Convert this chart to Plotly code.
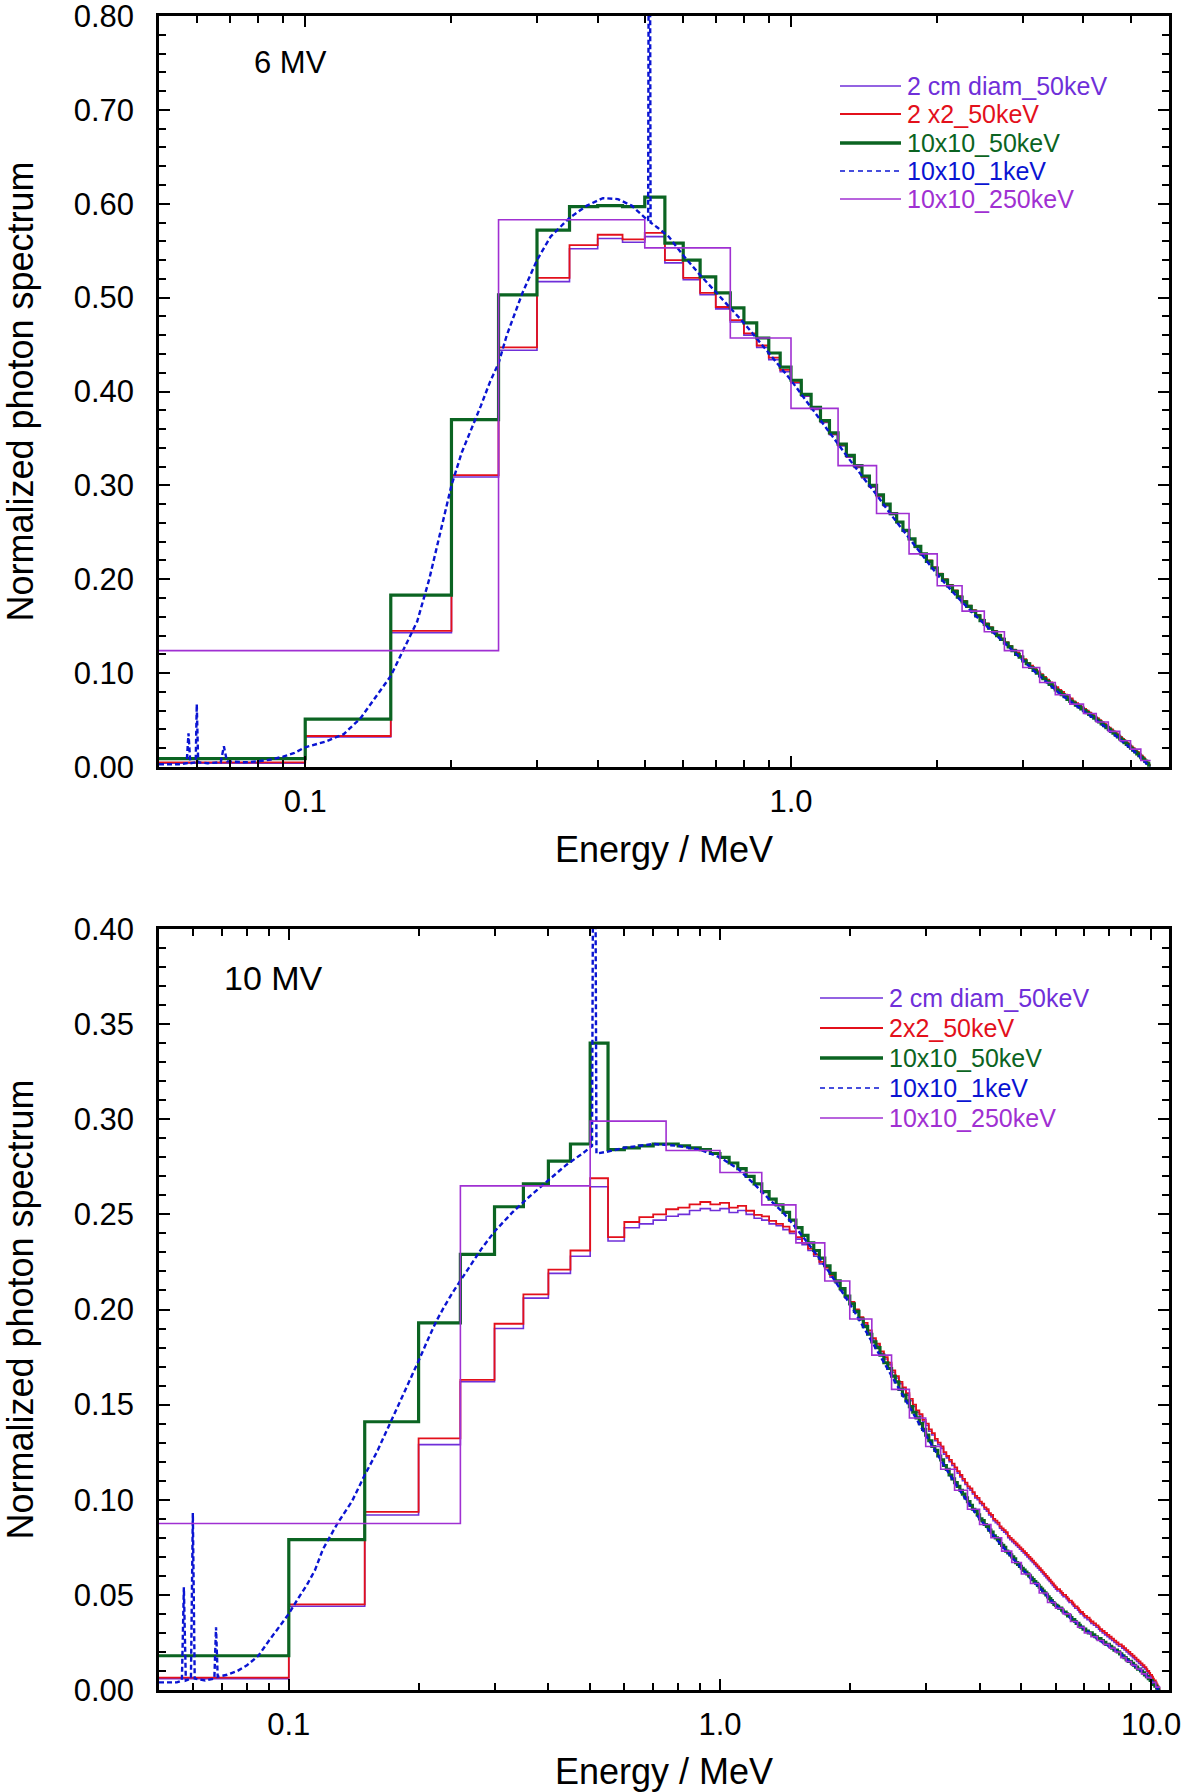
import math
import plotly.graph_objects as go

# ---------------- data ----------------
BIN_START = 0.05      # MeV, first visible 50 keV bin
BIN_W = 0.05          # MeV
COARSE_W = 0.25       # MeV, 250 keV bins (first bin starts at 0)

# 6 MV, 50 keV bins starting at 0.05 MeV
g6_10x10_50 = [0.009, 0.051, 0.183, 0.370, 0.503, 0.572, 0.597, 0.598, 0.597, 0.607,
               0.558, 0.540, 0.522, 0.505, 0.489, 0.473, 0.457, 0.441, 0.426,
               0.412, 0.397, 0.383, 0.369, 0.356, 0.344, 0.332, 0.321, 0.310, 0.300,
               0.290, 0.280, 0.270, 0.261, 0.252, 0.243, 0.235, 0.227, 0.219, 0.212,
               0.205, 0.199, 0.193, 0.187, 0.181, 0.176, 0.171, 0.166, 0.161, 0.156,
               0.152, 0.148, 0.144, 0.140, 0.136, 0.132, 0.128, 0.124, 0.120, 0.117,
               0.113, 0.110, 0.106, 0.103, 0.100, 0.097, 0.094, 0.091, 0.088, 0.085,
               0.082, 0.080, 0.077, 0.075, 0.072, 0.070, 0.068, 0.066, 0.064, 0.062,
               0.060, 0.058, 0.056, 0.054, 0.052, 0.050, 0.048, 0.046, 0.044, 0.042,
               0.040, 0.038, 0.036, 0.034, 0.032, 0.030, 0.028, 0.026, 0.024, 0.022,
               0.020, 0.018, 0.016, 0.014, 0.012, 0.010, 0.008, 0.006, 0.004, 0.002]
r6_2x2_50 = [0.005, 0.033, 0.145, 0.311, 0.447, 0.521, 0.556, 0.567, 0.562, 0.569,
             0.540, 0.521, 0.505, 0.490, 0.476, 0.462, 0.449, 0.436, 0.423,
             0.410, 0.396, 0.382, 0.368, 0.355, 0.343, 0.331, 0.320, 0.309, 0.299,
             0.289, 0.279, 0.270, 0.261, 0.252, 0.243, 0.235, 0.227, 0.220, 0.213,
             0.206, 0.200, 0.194, 0.188, 0.182, 0.177, 0.172, 0.167, 0.162, 0.157,
             0.153, 0.149, 0.145, 0.141, 0.137, 0.133, 0.129, 0.125, 0.122, 0.118,
             0.115, 0.111, 0.108, 0.105, 0.102, 0.099, 0.096, 0.093, 0.090, 0.087,
             0.085, 0.082, 0.080, 0.077, 0.075, 0.073, 0.070, 0.068, 0.066, 0.064,
             0.062, 0.060, 0.058, 0.056, 0.054, 0.052, 0.050, 0.048, 0.046, 0.044,
             0.042, 0.040, 0.038, 0.036, 0.034, 0.032, 0.030, 0.028, 0.026, 0.024,
             0.022, 0.020, 0.018, 0.016, 0.014, 0.012, 0.010, 0.007, 0.005, 0.002]
v6_2cm_50 = [0.004, 0.032, 0.143, 0.309, 0.444, 0.517, 0.552, 0.563, 0.559, 0.565,
             0.537, 0.519, 0.503, 0.488, 0.474, 0.460, 0.447, 0.434, 0.421,
             0.409, 0.395, 0.381, 0.367, 0.354, 0.342, 0.330, 0.319, 0.308, 0.298,
             0.288, 0.278, 0.269, 0.260, 0.251, 0.242, 0.234, 0.226, 0.219, 0.212,
             0.205, 0.199, 0.193, 0.187, 0.181, 0.176, 0.171, 0.166, 0.161, 0.156,
             0.152, 0.148, 0.144, 0.140, 0.136, 0.132, 0.128, 0.124, 0.121, 0.117,
             0.114, 0.110, 0.107, 0.104, 0.101, 0.098, 0.095, 0.092, 0.089, 0.086,
             0.084, 0.081, 0.079, 0.076, 0.074, 0.072, 0.069, 0.067, 0.065, 0.063,
             0.061, 0.059, 0.057, 0.055, 0.053, 0.051, 0.049, 0.047, 0.045, 0.043,
             0.041, 0.039, 0.037, 0.035, 0.033, 0.031, 0.029, 0.027, 0.025, 0.023,
             0.021, 0.019, 0.017, 0.015, 0.013, 0.011, 0.009, 0.006, 0.004, 0.002]
p6_10x10_250 = [0.124, 0.583, 0.553, 0.457, 0.382, 0.321, 0.270, 0.227, 0.193, 0.166, 0.144,
                0.124, 0.106, 0.090, 0.077, 0.067, 0.057, 0.048, 0.038, 0.028, 0.019, 0.007]
b6_energy = [0.050, 0.055, 0.057, 0.0575, 0.058, 0.0595, 0.0598, 0.0602, 0.063, 0.067, 0.068, 0.069,
             0.075, 0.080, 0.085, 0.090, 0.095, 0.100, 0.110, 0.120, 0.130, 0.140, 0.150, 0.160,
             0.170, 0.180, 0.190, 0.200, 0.210, 0.220, 0.230, 0.240, 0.250, 0.260, 0.280, 0.300,
             0.320, 0.350, 0.380, 0.410, 0.440, 0.470, 0.500, 0.508, 0.511, 0.514, 0.530, 0.560,
             0.600, 0.650, 0.700, 0.750, 0.800, 0.900, 1.000, 1.100, 1.200, 1.300, 1.400, 1.500,
             1.600, 1.700, 1.800, 1.900, 2.000, 2.200, 2.400, 2.600, 2.800, 3.000, 3.200, 3.400,
             3.600, 3.800, 4.000, 4.200, 4.400, 4.600, 4.800, 5.000, 5.200, 5.400, 5.480]
b6_value = [0.003, 0.003, 0.004, 0.036, 0.004, 0.005, 0.067, 0.005, 0.004, 0.005, 0.022, 0.006,
            0.005, 0.006, 0.008, 0.011, 0.015, 0.021, 0.027, 0.035, 0.052, 0.075, 0.097, 0.127,
            0.155, 0.200, 0.250, 0.300, 0.335, 0.360, 0.385, 0.410, 0.430, 0.460, 0.505, 0.540,
            0.565, 0.585, 0.598, 0.606, 0.605, 0.598, 0.585, 0.582, 1.200, 0.580, 0.575, 0.565,
            0.545, 0.524, 0.506, 0.489, 0.473, 0.441, 0.412, 0.383, 0.356, 0.332, 0.310, 0.290,
            0.270, 0.252, 0.235, 0.219, 0.205, 0.181, 0.161, 0.144, 0.128, 0.113, 0.100, 0.088,
            0.077, 0.068, 0.060, 0.052, 0.044, 0.036, 0.028, 0.020, 0.012, 0.004, 0.000]

# 10 MV, 50 keV bins starting at 0.05 MeV
g10_10x10_50 = [0.018, 0.079, 0.141, 0.193, 0.229, 0.254, 0.266, 0.278, 0.287, 0.340,
                0.284, 0.285, 0.286, 0.287, 0.287, 0.286, 0.285, 0.284, 0.282,
                0.280, 0.277, 0.274, 0.270, 0.266, 0.262, 0.258, 0.255, 0.251, 0.247,
                0.243, 0.239, 0.235, 0.231, 0.227, 0.223, 0.219, 0.215, 0.211, 0.207,
                0.203, 0.199, 0.195, 0.191, 0.187, 0.183, 0.180, 0.176, 0.172, 0.169,
                0.165, 0.162, 0.158, 0.155, 0.152, 0.149, 0.146, 0.143, 0.140, 0.137,
                0.134, 0.131, 0.128, 0.126, 0.123, 0.121, 0.118, 0.116, 0.113, 0.111,
                0.109, 0.107, 0.105, 0.103, 0.101, 0.099, 0.097, 0.095, 0.094, 0.092,
                0.090, 0.089, 0.087, 0.086, 0.084, 0.083, 0.081, 0.080, 0.079, 0.077,
                0.076, 0.075, 0.073, 0.072, 0.071, 0.070, 0.069, 0.067, 0.066, 0.065,
                0.064, 0.063, 0.062, 0.061, 0.060, 0.059, 0.058, 0.057, 0.056, 0.055,
                0.054, 0.053, 0.052, 0.051, 0.050, 0.049, 0.048, 0.047, 0.046, 0.045,
                0.0445, 0.044, 0.043, 0.043, 0.042, 0.041, 0.041, 0.040, 0.039, 0.039,
                0.038, 0.037, 0.037, 0.036, 0.035, 0.035, 0.034, 0.033, 0.033, 0.032,
                0.032, 0.031, 0.031, 0.030, 0.030, 0.030, 0.029, 0.029, 0.028, 0.028,
                0.027, 0.027, 0.027, 0.026, 0.026, 0.025, 0.025, 0.024, 0.024, 0.024,
                0.023, 0.023, 0.022, 0.022, 0.021, 0.021, 0.021, 0.020, 0.020, 0.019,
                0.019, 0.018, 0.018, 0.017, 0.017, 0.016, 0.016, 0.015, 0.015, 0.015,
                0.014, 0.014, 0.013, 0.013, 0.012, 0.012, 0.011, 0.011, 0.011, 0.010,
                0.010, 0.009, 0.009, 0.008, 0.008, 0.007, 0.007, 0.006, 0.006, 0.005,
                0.005, 0.004, 0.003, 0.003, 0.002, 0.002, 0.001, 0.001, 0.000, 0.000]
r10_2x2_50 = [0.0065, 0.045, 0.0936, 0.1323, 0.163, 0.1925, 0.208, 0.221, 0.231, 0.269,
              0.238, 0.246, 0.2486, 0.250, 0.2527, 0.2536, 0.2553, 0.2565, 0.2553,
              0.256, 0.2536, 0.2545, 0.2519, 0.2497, 0.249, 0.2466, 0.245, 0.2436, 0.241,
              0.238, 0.235, 0.232, 0.229, 0.225, 0.222, 0.218, 0.215, 0.211, 0.207,
              0.204, 0.200, 0.196, 0.193, 0.189, 0.185, 0.182, 0.178, 0.175, 0.172,
              0.168, 0.165, 0.162, 0.159, 0.156, 0.153, 0.150, 0.147, 0.145, 0.142,
              0.140, 0.137, 0.135, 0.132, 0.130, 0.128, 0.125, 0.123, 0.121, 0.119,
              0.117, 0.115, 0.113, 0.111, 0.109, 0.107, 0.106, 0.104, 0.102, 0.101,
              0.099, 0.098, 0.096, 0.095, 0.093, 0.092, 0.090, 0.089, 0.088, 0.086,
              0.085, 0.084, 0.083, 0.081, 0.080, 0.079, 0.078, 0.077, 0.076, 0.075,
              0.074, 0.073, 0.072, 0.071, 0.070, 0.069, 0.068, 0.067, 0.066, 0.065,
              0.064, 0.063, 0.062, 0.061, 0.060, 0.059, 0.058, 0.057, 0.056, 0.055,
              0.054, 0.053, 0.053, 0.052, 0.051, 0.050, 0.050, 0.049, 0.048, 0.047,
              0.047, 0.046, 0.045, 0.044, 0.044, 0.043, 0.042, 0.041, 0.041, 0.040,
              0.039, 0.039, 0.038, 0.038, 0.037, 0.036, 0.036, 0.035, 0.035, 0.034,
              0.034, 0.033, 0.032, 0.032, 0.031, 0.031, 0.030, 0.030, 0.029, 0.029,
              0.028, 0.028, 0.027, 0.027, 0.026, 0.026, 0.025, 0.025, 0.024, 0.024,
              0.024, 0.023, 0.023, 0.022, 0.022, 0.021, 0.021, 0.020, 0.020, 0.019,
              0.019, 0.018, 0.018, 0.017, 0.017, 0.016, 0.016, 0.015, 0.015, 0.014,
              0.014, 0.013, 0.013, 0.012, 0.012, 0.011, 0.010, 0.010, 0.009, 0.008,
              0.008, 0.007, 0.006, 0.005, 0.005, 0.004, 0.003, 0.002, 0.001, 0.000]
v10_2cm_50 = [0.006, 0.044, 0.092, 0.129, 0.162, 0.190, 0.206, 0.219, 0.228, 0.2645,
              0.236, 0.243, 0.245, 0.247, 0.249, 0.250, 0.252, 0.253, 0.252,
              0.253, 0.251, 0.252, 0.250, 0.248, 0.247, 0.245, 0.244, 0.242, 0.240,
              0.237, 0.234, 0.231, 0.228, 0.224, 0.221, 0.217, 0.214, 0.210, 0.206,
              0.203, 0.199, 0.195, 0.192, 0.188, 0.184, 0.181, 0.177, 0.174, 0.171,
              0.167, 0.164, 0.161, 0.158, 0.155, 0.152, 0.149, 0.146, 0.144, 0.141,
              0.139, 0.136, 0.134, 0.131, 0.129, 0.127, 0.124, 0.122, 0.120, 0.118,
              0.116, 0.114, 0.112, 0.110, 0.108, 0.106, 0.105, 0.103, 0.101, 0.100,
              0.098, 0.097, 0.095, 0.094, 0.092, 0.091, 0.089, 0.088, 0.087, 0.085,
              0.084, 0.083, 0.082, 0.080, 0.079, 0.078, 0.077, 0.076, 0.075, 0.074,
              0.073, 0.072, 0.071, 0.070, 0.069, 0.068, 0.067, 0.066, 0.065, 0.064,
              0.063, 0.062, 0.061, 0.060, 0.059, 0.058, 0.057, 0.056, 0.055, 0.054,
              0.053, 0.052, 0.052, 0.051, 0.050, 0.049, 0.049, 0.048, 0.047, 0.046,
              0.046, 0.045, 0.044, 0.043, 0.043, 0.042, 0.041, 0.040, 0.040, 0.039,
              0.038, 0.038, 0.037, 0.037, 0.036, 0.035, 0.035, 0.034, 0.034, 0.033,
              0.033, 0.032, 0.031, 0.031, 0.030, 0.030, 0.029, 0.029, 0.028, 0.028,
              0.027, 0.027, 0.026, 0.026, 0.025, 0.025, 0.024, 0.024, 0.023, 0.023,
              0.023, 0.022, 0.022, 0.021, 0.021, 0.020, 0.020, 0.019, 0.019, 0.018,
              0.018, 0.017, 0.017, 0.016, 0.016, 0.015, 0.015, 0.014, 0.014, 0.013,
              0.013, 0.012, 0.012, 0.011, 0.011, 0.010, 0.009, 0.009, 0.008, 0.007,
              0.007, 0.006, 0.005, 0.004, 0.004, 0.003, 0.002, 0.001, 0.001, 0.000]
p10_10x10_250 = [0.0875, 0.265, 0.299, 0.2836, 0.272, 0.255, 0.235, 0.215, 0.195, 0.176,
                 0.158, 0.143, 0.128, 0.116, 0.105, 0.095, 0.087, 0.080, 0.073, 0.067,
                 0.061, 0.056, 0.051, 0.046, 0.043, 0.040, 0.036, 0.033, 0.030, 0.028,
                 0.026, 0.024, 0.022, 0.020, 0.017, 0.015, 0.013, 0.011, 0.0085, 0.0065,
                 0.004, 0.0015]
b10_energy = [0.050, 0.055, 0.0565, 0.0571, 0.0577, 0.0593, 0.0599, 0.0605, 0.064, 0.0672, 0.0678,
              0.0684, 0.072, 0.076, 0.080, 0.085, 0.090, 0.095, 0.100, 0.105, 0.110, 0.115, 0.120,
              0.130, 0.140, 0.150, 0.160, 0.170, 0.180, 0.190, 0.200, 0.210, 0.220, 0.230, 0.240,
              0.260, 0.280, 0.300, 0.330, 0.360, 0.400, 0.440, 0.480, 0.505, 0.511, 0.517, 0.550,
              0.600, 0.700, 0.800, 0.900, 1.000, 1.100, 1.200, 1.300, 1.400, 1.500, 1.600, 1.700,
              1.800, 1.900, 2.000, 2.200, 2.400, 2.600, 2.800, 3.000, 3.250, 3.500, 3.750, 4.000,
              4.500, 5.000, 5.500, 6.000, 6.500, 7.000, 7.500, 8.000, 8.500, 9.000, 9.500, 10.000,
              10.400]
b10_value = [0.004, 0.004, 0.005, 0.054, 0.005, 0.006, 0.093, 0.006, 0.005, 0.006, 0.033,
             0.007, 0.008, 0.010, 0.013, 0.018, 0.026, 0.033, 0.040, 0.048, 0.055, 0.063, 0.074,
             0.088, 0.099, 0.113, 0.125, 0.138, 0.150, 0.162, 0.173, 0.184, 0.194, 0.202, 0.209,
             0.221, 0.232, 0.241, 0.251, 0.259, 0.268, 0.276, 0.282, 0.286, 0.600, 0.282, 0.283,
             0.285, 0.287, 0.286, 0.284, 0.280, 0.274, 0.266, 0.258, 0.251, 0.243, 0.235, 0.227,
             0.219, 0.211, 0.203, 0.187, 0.172, 0.158, 0.146, 0.134, 0.121, 0.109, 0.099, 0.090,
             0.076, 0.064, 0.054, 0.0445, 0.038, 0.032, 0.027, 0.023, 0.019, 0.014, 0.010, 0.005,
             0.000]

names6 = ["2 cm diam_50keV", "2 x2_50keV", "10x10_50keV", "10x10_1keV", "10x10_250keV"]
names10 = ["2 cm diam_50keV", "2x2_50keV", "10x10_50keV", "10x10_1keV", "10x10_250keV"]
x_ticks = [0.1, 1.0, 10.0]
x_ticktext = ["0.1", "1.0", "10.0"]
x_minor = [0.06, 0.07, 0.08, 0.09, 0.2, 0.3, 0.4, 0.5, 0.6, 0.7, 0.8, 0.9,
           2, 3, 4, 5, 6, 7, 8, 9]

# ---------------- styling ----------------
FONT = "Liberation Sans, Arial, Helvetica, sans-serif"
COLORS = ["#6F2FD9", "#E3101B", "#0B6422", "#0A14D2", "#A030D2"]
WIDTHS = [1.6, 1.8, 3.2, 2.4, 1.6]
DASHES = ["solid", "solid", "solid", "5px,3px", "solid"]
LEG_WIDTHS = [1.6, 1.8, 3.6, 1.6, 1.6]
LEG_DASHES = ["solid", "solid", "solid", "5px,4px", "solid"]

W, H = 1181, 1792
ML, MR, MT, MB = 159, 12, 16, 102
PW = W - ML - MR
PH = H - MT - MB


def px(pix):
    return (pix - ML) / PW


def py(pix):
    return (H - MB - pix) / PH


def hist_steps(start, width, vals):
    edges = [start + width * i for i in range(len(vals) + 1)]
    if edges[0] <= 0:
        edges[0] = 1e-3   # the 0 edge cannot be shown on a log axis
    return edges, list(vals) + [vals[-1]]


fig = go.Figure()

panels = [
    ("x", "y", names6, v6_2cm_50, r6_2x2_50, g6_10x10_50, b6_energy, b6_value, p6_10x10_250),
    ("x2", "y2", names10, v10_2cm_50, r10_2x2_50, g10_10x10_50, b10_energy, b10_value, p10_10x10_250),
]
for xa, ya, nm, v2cm, r2x2, g50, be, bv, p250 in panels:
    series = [
        hist_steps(BIN_START, BIN_W, v2cm),
        hist_steps(BIN_START, BIN_W, r2x2),
        hist_steps(BIN_START, BIN_W, g50),
        (be, bv),
        hist_steps(0.0, COARSE_W, p250),
    ]
    for i, (sx, sy) in enumerate(series):
        fig.add_trace(go.Scatter(
            x=sx, y=sy, mode="lines", name=nm[i], showlegend=False,
            line=dict(color=COLORS[i], width=WIDTHS[i], dash=DASHES[i],
                      shape="linear" if i == 3 else "hv"),
            xaxis=xa, yaxis=ya))

# legends drawn as line samples + coloured labels (matching the original look)
shapes, annotations = [], []
legend_specs = [
    (names6, 840, 901, 905, [86, 114, 143, 171, 199]),
    (names10, 820, 883, 887, [998, 1028, 1058, 1088, 1118]),
]
for nm, x0, x1, xt, rows in legend_specs:
    for i, yy in enumerate(rows):
        shapes.append(dict(type="line", xref="paper", yref="paper", x0=px(x0), x1=px(x1),
                           y0=py(yy), y1=py(yy),
                           line=dict(color=COLORS[i], width=LEG_WIDTHS[i], dash=LEG_DASHES[i])))
        annotations.append(dict(text=nm[i], xref="paper", yref="paper", x=px(xt), y=py(yy),
                                xanchor="left", yanchor="middle", showarrow=False,
                                font=dict(family=FONT, size=25, color=COLORS[i])))

annotations.append(dict(text="6 MV", xref="paper", yref="paper", x=px(252), y=py(62),
                        xanchor="left", yanchor="middle", showarrow=False,
                        font=dict(family=FONT, size=31, color="black")))
annotations.append(dict(text="10 MV", xref="paper", yref="paper", x=px(222), y=py(978),
                        xanchor="left", yanchor="middle", showarrow=False,
                        font=dict(family=FONT, size=34, color="black")))

common_axis = dict(showline=True, linewidth=2.5, linecolor="black", mirror="ticks",
                   ticks="inside", ticklen=11, tickwidth=2, tickcolor="black",
                   showgrid=False, zeroline=False, automargin=False,
                   ticklabeloverflow="allow",
                   tickfont=dict(family=FONT, size=31, color="black"))
xa_common = dict(common_axis, type="log", tickvals=x_ticks, ticktext=x_ticktext,
                 minor=dict(tickvals=x_minor, ticks="inside", ticklen=7, tickwidth=2, tickcolor="black"),
                 title=dict(text="Energy / MeV", font=dict(family=FONT, size=36, color="black"), standoff=19),
                 ticklabelstandoff=5)
ya_common = dict(common_axis, tickformat=".2f",
                 title=dict(text="Normalized photon spectrum", font=dict(family=FONT, size=36, color="black"),
                            standoff=49),
                 ticklabelstandoff=16)

fig.update_layout(
    width=W, height=H,
    margin=dict(l=ML, r=MR, t=MT, b=MB, autoexpand=False),
    paper_bgcolor="white", plot_bgcolor="white",
    font=dict(family=FONT, color="black"),
    showlegend=False,
    hovermode=False,
    xaxis=dict(xa_common, domain=[0, 1], anchor="y", range=[math.log10(0.05), math.log10(6.0)]),
    yaxis=dict(ya_common, domain=[py(767), 1], anchor="x", range=[0, 0.8], dtick=0.1,
               minor=dict(dtick=0.02, ticks="inside", ticklen=7, tickwidth=2, tickcolor="black")),
    xaxis2=dict(xa_common, domain=[0, 1], anchor="y2", range=[math.log10(0.05), math.log10(11.0)]),
    yaxis2=dict(ya_common, domain=[0, py(929)], anchor="x2", range=[0, 0.4], dtick=0.05,
                minor=dict(dtick=0.01, ticks="inside", ticklen=7, tickwidth=2, tickcolor="black")),
    shapes=shapes,
    annotations=annotations,
)

# remove the browser's default 8px page margin so the figure fills the window exactly
fig.write_html("out.html", config={"displayModeBar": False},
               post_script="document.body.style.margin='0px';")
